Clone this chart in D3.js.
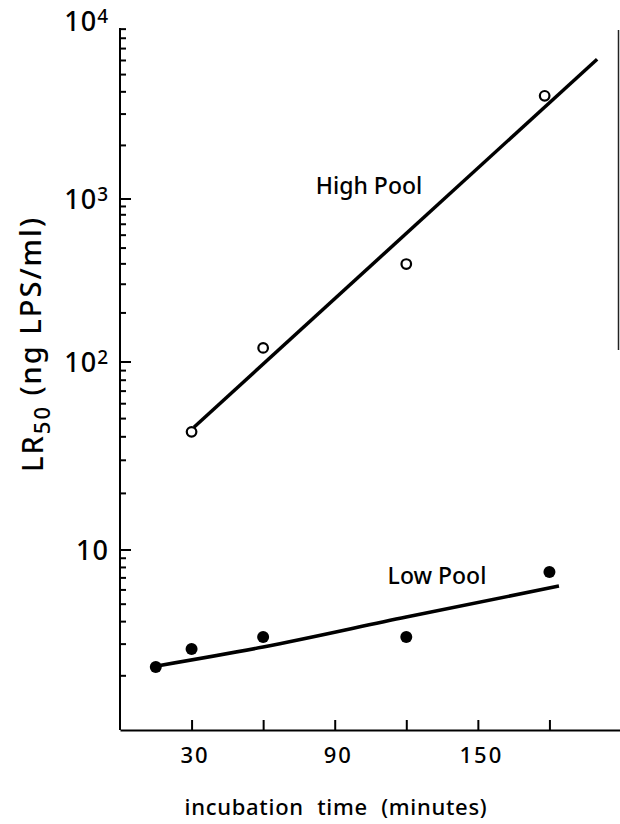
<!DOCTYPE html>
<html>
<head>
<meta charset="utf-8">
<script src="https://cdn.jsdelivr.net/npm/d3@7"></script>
<style>
  body { margin: 0; background: #fff; }
  svg { display: block; }
  text { font-family: "Noto Sans", "DejaVu Sans", sans-serif; font-weight: 500; fill: #000; }
</style>
</head>
<body>
<svg id="chart" width="620" height="824"></svg>
<script>
// data (time in minutes, LR50 in ng LPS/ml)
var highTime = [30, 60, 120, 178];
var highLR50 = [42.5, 122, 399, 3800];
var lowTime = [15, 30, 60, 120, 180];
var lowLR50 = [2.24, 2.82, 3.29, 3.29, 7.55];

// fitted lines as drawn
var highFitTime = [31, 200];
var highFitLR50 = [45, 6100];
var lowFitTime = [15.5, 60, 120, 184];
var lowFitLR50 = [2.27, 2.89, 4.24, 6.31];

var xTicks = [30, 60, 90, 120, 150, 180];
var xLabels = [30, 90, 150];
var yMajor = [10, 100, 1000];
var yLabels = [[10, "4", 10000], [10, "3", 1000], [10, "2", 100], [10, "", 10]];

var svg = d3.select("#chart");

// x: linear minutes; y: log scale with the printed decade positions
var x = d3.scaleLinear().domain([0, 210]).range([120, 621]);
var y = d3.scaleLog().domain([1, 10, 100, 1000, 10000]).range([730, 550, 362, 199, 21]);

var yMinor = [];
[1, 10, 100, 1000].forEach(function(p) {
  for (var k = 2; k <= 9; k++) yMinor.push(p * k);
});

// y axis ------------------------------------------------------------
var yaxis = svg.append("g")
  .attr("class", "axis axis--y")
  .attr("transform", "translate(" + x(0) + ",0)");

yaxis.append("line")
  .attr("x1", 0).attr("x2", 0)
  .attr("y1", y(1)).attr("y2", 28)
  .attr("stroke", "#000").attr("stroke-width", 2);

yaxis.selectAll("line.major")
  .data(yMajor)
  .enter().append("line")
  .attr("class", "major")
  .attr("x1", 0).attr("x2", 11)
  .attr("y1", function(d) { return y(d); })
  .attr("y2", function(d) { return y(d); })
  .attr("stroke", "#000").attr("stroke-width", 2);

yaxis.selectAll("line.minor")
  .data(yMinor)
  .enter().append("line")
  .attr("class", "minor")
  .attr("x1", 0).attr("x2", 6)
  .attr("y1", function(d) { return y(d); })
  .attr("y2", function(d) { return y(d); })
  .attr("stroke", "#000").attr("stroke-width", 2);

var ylab = yaxis.selectAll("text.ylab")
  .data(yLabels)
  .enter().append("text")
  .attr("class", "ylab")
  .attr("x", -11)
  .attr("y", function(d) { return y(d[2]); })
  .attr("dy", "0.36em")
  .attr("text-anchor", "end")
  .style("font-size", "27px")
  .style("letter-spacing", "1px");

ylab.append("tspan").text(function(d) { return d[0]; });
ylab.append("tspan")
  .attr("dy", "-0.42em")
  .style("font-size", "19px")
  .text(function(d) { return d[1]; });

// x axis ------------------------------------------------------------
var xaxis = svg.append("g")
  .attr("class", "axis axis--x")
  .attr("transform", "translate(0," + y(1) + ")")
  .call(d3.axisBottom(x)
    .tickValues(xTicks)
    .tickSizeInner(-10)
    .tickSizeOuter(0)
    .tickPadding(17)
    .tickFormat(function(d) { return xLabels.indexOf(d) >= 0 ? d : ""; }));

xaxis.select(".domain").attr("stroke-width", 2);
xaxis.selectAll(".tick line").attr("stroke-width", 2);
xaxis.selectAll(".tick text")
  .attr("dx", "3px")
  .style("font-size", "22px")
  .style("letter-spacing", "2px")
  .style("font-family", "Noto Sans, DejaVu Sans, sans-serif");

// axis titles
svg.append("text")
  .text("incubation time (minutes)")
  .attr("x", 336).attr("y", 815)
  .attr("text-anchor", "middle")
  .style("font-size", "22px")
  .style("word-spacing", "7px")
  .style("letter-spacing", "0.7px");

var ytitle = svg.append("text")
  .attr("transform", "translate(43,344)rotate(-90)")
  .attr("text-anchor", "middle")
  .style("font-size", "29px")
  .style("letter-spacing", "2px");
ytitle.append("tspan").text("LR");
ytitle.append("tspan").attr("dy", "0.3em").style("font-size", "22px").text("50");
ytitle.append("tspan").attr("dy", "-0.3em").text(" (ng LPS/ml)");

// fitted lines ------------------------------------------------------
var line = d3.line()
  .x(function(d) { return x(d[0]); })
  .y(function(d) { return y(d[1]); });

svg.append("path")
  .datum(d3.zip(highFitTime, highFitLR50))
  .attr("d", line)
  .attr("fill", "none").attr("stroke", "#000").attr("stroke-width", 3.5);

svg.append("path")
  .datum(d3.zip(lowFitTime, lowFitLR50))
  .attr("d", line.curve(d3.curveMonotoneX))
  .attr("fill", "none").attr("stroke", "#000").attr("stroke-width", 3.5);

// points ------------------------------------------------------------
svg.selectAll("circle.high")
  .data(d3.zip(highTime, highLR50))
  .enter().append("circle")
  .attr("class", "high")
  .attr("cx", function(d) { return x(d[0]); })
  .attr("cy", function(d) { return y(d[1]); })
  .attr("r", 4.8)
  .attr("fill", "#fff").attr("stroke", "#000").attr("stroke-width", 2.2);

svg.selectAll("circle.low")
  .data(d3.zip(lowTime, lowLR50))
  .enter().append("circle")
  .attr("class", "low")
  .attr("cx", function(d) { return x(d[0]); })
  .attr("cy", function(d) { return y(d[1]); })
  .attr("r", 6)
  .attr("fill", "#000");

// series labels
svg.append("text").text("High Pool")
  .attr("x", 369).attr("y", 194)
  .attr("text-anchor", "middle")
  .style("font-size", "23px");

svg.append("text").text("Low Pool")
  .attr("x", 437).attr("y", 584)
  .attr("text-anchor", "middle")
  .style("font-size", "23px");

// page edge line visible at right of the scan
svg.append("line")
  .attr("x1", 618.5).attr("x2", 618.5)
  .attr("y1", 30).attr("y2", 350)
  .attr("stroke", "#222").attr("stroke-width", 1.5);
</script>
</body>
</html>
